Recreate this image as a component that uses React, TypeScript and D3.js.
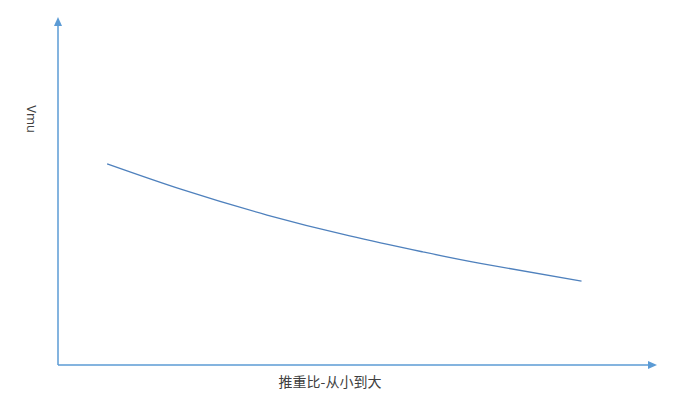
import { useMemo } from "react";
import * as d3 from "d3";

const WIDTH = 698;
const HEIGHT = 410;
const AXIS = { left: 58, bottom: 365, right: 657, top: 17 };

const AXIS_COLOR = "#5b9bd5";
const LINE_COLOR = "#4f81bd";

// 推重比 (relative, no ticks shown) vs Vmu (relative)
const thrustRatio = [8.2, 20.9, 34.9, 48.7, 60.9, 70.5, 87.4];
const vmuValues = [57.8, 50.3, 43.1, 37.1, 32.5, 29.2, 24.1];

const xLabel = "推重比-从小到大";
const yLabel = "Vmu";

export default function App() {
  const xScale = useMemo(
    () => d3.scaleLinear().domain([0, 100]).range([AXIS.left, AXIS.right]),
    []
  );
  const yScale = useMemo(
    () => d3.scaleLinear().domain([0, 100]).range([AXIS.bottom, AXIS.top]),
    []
  );

  const path = d3
    .line<number>()
    .x((d, i) => xScale(thrustRatio[i]))
    .y((d) => yScale(d))
    .curve(d3.curveNatural)(vmuValues) as string;

  const x0 = xScale(0);
  const y0 = yScale(0);
  const xEnd = xScale(100);
  const yEnd = yScale(100);

  return (
    <svg
      width={WIDTH}
      height={HEIGHT}
      style={{ position: "absolute", left: 0, top: 0, background: "#fff" }}
    >
      {/* axes with arrow heads */}
      <line x1={x0} y1={y0} x2={x0} y2={yEnd + 7} stroke={AXIS_COLOR} strokeWidth={1.5} />
      <path
        d={`M${x0},${yEnd} L${x0 - 4},${yEnd + 9} L${x0 + 4},${yEnd + 9} Z`}
        fill={AXIS_COLOR}
      />
      <line x1={x0} y1={y0} x2={xEnd - 7} y2={y0} stroke={AXIS_COLOR} strokeWidth={1.5} />
      <path
        d={`M${xEnd},${y0} L${xEnd - 9},${y0 - 4} L${xEnd - 9},${y0 + 4} Z`}
        fill={AXIS_COLOR}
      />

      <path d={path} fill="none" stroke={LINE_COLOR} strokeWidth={1.3} />

      <text
        x={330}
        y={381}
        textAnchor="middle"
        dominantBaseline="central"
        fontSize={14}
        fontFamily="'Noto Sans CJK SC', sans-serif"
        fill="#404040"
      >
        {xLabel}
      </text>
      <text
        transform={`translate(32,119) rotate(90)`}
        textAnchor="middle"
        dominantBaseline="central"
        fontSize={13}
        fontFamily="'Open Sans', sans-serif"
        fill="#404040"
      >
        {yLabel}
      </text>
    </svg>
  );
}
